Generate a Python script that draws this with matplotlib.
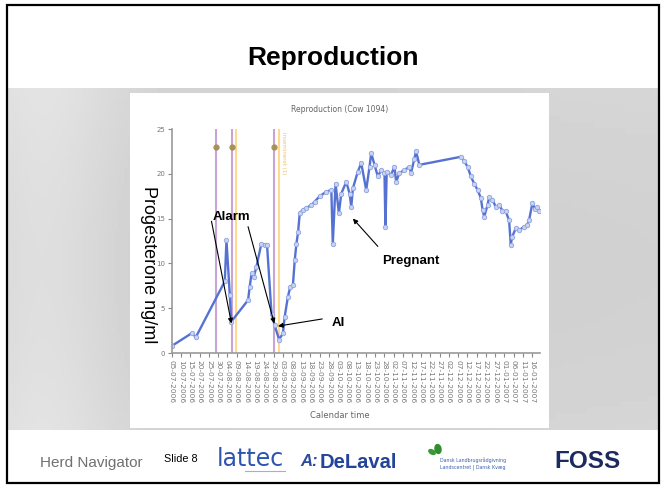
import numpy as np
import pandas as pd
import matplotlib
matplotlib.use('Agg')
import matplotlib.pyplot as plt
from matplotlib.patches import Rectangle, Ellipse

# progesterone measurements, days after 05-07-2006
days = [0, 10.6, 13, 28.6, 29.5, 31.3, 32.1, 41.2, 42.1, 43.1, 44.3, 45.7, 48.4,
        50.2, 51.5, 53.9, 55.6, 58, 60.1, 61, 62.8, 64.1, 65.5, 66.5, 67.4, 68.3,
        69.2, 70.9, 72.8, 75.5, 77.3, 80, 83.6, 86.3, 87.1, 88.6, 90.4, 91.7,
        94.4, 96.2, 97.1, 98, 100.6, 102.5, 105.2, 107, 107.9, 109.7, 111.5,
        113.3, 115.1, 115.6, 116.3, 118.7, 120.5, 121.4, 123.2, 125.9, 128.6,
        129.5, 131.3, 132.2, 134, 156.5, 158.3, 160.1, 161.9, 163.7, 165.5,
        167.3, 168.2, 169.1, 170.9, 171.8, 173.6, 175.4, 177.2, 179, 180.8,
        182.6, 183.5, 184.3, 186.2, 188, 190.7, 192.5, 193.4, 195.2, 196.6,
        197.9, 198.8]
progesterone = [0.8, 2.2, 1.8, 8.0, 12.6, 6.5, 3.5, 5.9, 7.4, 8.9, 8.5, 9.6, 12.2,
                12.1, 12.0, 4.4, 3.1, 1.5, 2.2, 4.0, 6.3, 7.4, 7.6, 10.4, 12.2, 13.5,
                15.6, 16.0, 16.2, 16.5, 16.9, 17.5, 18.0, 18.2, 12.2, 18.9, 15.6, 17.8,
                19.1, 17.8, 16.3, 18.4, 20.2, 21.2, 18.2, 20.8, 22.3, 21.0, 19.7,
                20.4, 20.1, 14.1, 20.2, 19.9, 20.8, 19.1, 20.1, 20.4, 20.8,
                20.1, 21.7, 22.5, 21.0, 21.9, 21.4, 20.8, 19.7, 18.9, 18.2,
                17.3, 16.0, 15.2, 16.5, 17.4, 17.1, 16.3, 16.5, 15.9, 15.8,
                14.8, 12.1, 13.0, 13.9, 13.7, 14.1, 14.3, 14.8, 16.7, 16.1,
                16.3, 15.9]

heat_days = [23.6, 32.3, 55.3]      # purple lines with markers
insem_days = [34.6, 57.8]           # orange lines
heat_marker = 23

start = pd.Timestamp('2006-07-05')
tick_dates = pd.date_range(start, '2007-01-16', freq='5D')
tick_days = [(d - start).days for d in tick_dates]
tick_labels = [d.strftime('%d-%m-%Y') for d in tick_dates]

W, H = 666, 488
fig = plt.figure(figsize=(W / 100, H / 100), dpi=100)

# slide background in pixel coords
bg = fig.add_axes([0, 0, 1, 1], zorder=0)
bg.set_xlim(0, W)
bg.set_ylim(H, 0)
bg.axis('off')
gx = np.linspace(0, 1, 200)
gy = np.linspace(0, 1, 60)
GX, GY = np.meshgrid(gx, gy)
shade = 0.82 + 0.07 * np.exp(-((GX - 0.05) / 0.12) ** 2) + 0.02 * GX - 0.02 * np.sin(GY * 3)
bg.imshow(shade, cmap='gray', vmin=0, vmax=1, extent=(7, 659, 430, 88), aspect='auto')
bg.add_patch(Rectangle((130, 93), 419, 335, facecolor='white', edgecolor='none'))
bg.add_patch(Rectangle((7, 5), 652, 478, facecolor='none', edgecolor='black', lw=1.6))

bg.text(333, 58, 'Reproduction', ha='center', va='center', fontsize=19,
        fontweight='bold', family='Liberation Sans')
bg.text(340, 109, 'Reproduction (Cow 1094)', ha='center', va='center',
        fontsize=5.5, color='#666666')
bg.text(340, 416, 'Calendar time', ha='center', va='center', fontsize=6, color='#666666')
bg.text(148, 265, 'Progesterone ng/ml', ha='center', va='center', rotation=270,
        fontsize=13, family='Liberation Sans')

# footer
bg.text(40, 463, 'Herd Navigator', ha='left', va='center', fontsize=11,
        color='#707070', family='Liberation Sans')
bg.text(164, 459, 'Slide 8', ha='left', va='center', fontsize=7.8, family='Liberation Sans')
bg.text(217, 459, 'lattec', ha='left', va='center', fontsize=17, color='#2d55b0',
        family='Liberation Sans Narrow')
bg.plot([245, 285], [471, 471], color='#9ab0e0', lw=0.8)
bg.text(300, 462, 'A:', ha='left', va='center', fontsize=12, color='#2a4aa0',
        fontweight='bold', style='italic', family='Liberation Sans')
bg.text(320, 462, 'DeLaval', ha='left', va='center', fontsize=14.5, color='#23449a',
        fontweight='bold', family='Liberation Sans')
bg.add_patch(Ellipse((432, 452), 7, 4, angle=30, color='#3a9a3a'))
bg.add_patch(Ellipse((438, 449), 6, 9, angle=-10, color='#2f8f2f'))
bg.text(440, 460, 'Dansk Landbrugsrådgivning', ha='left', va='center', fontsize=3.4,
        color='#3a60b0')
bg.text(440, 467, 'Landscentret | Dansk Kvæg', ha='left', va='center', fontsize=3.4,
        color='#3a60b0')
bg.text(588, 462, 'FOSS', ha='center', va='center', fontsize=17.5, color='#1c2a5e',
        fontweight='bold', family='Liberation Sans')

# chart
ax = fig.add_axes([172 / W, 1 - 353 / H, 368.3 / W, 224 / H], zorder=1)
ax.patch.set_visible(False)
for d in heat_days:
    ax.axvline(d, color='#c9a3d6', lw=1.5, zorder=1)
    ax.plot(d, heat_marker, 'o', color='#a8905a', ms=3.5, zorder=3)
for d in insem_days:
    ax.axvline(d, color='#ffd98c', lw=1.5, zorder=1)
ax.text(insem_days[1] + 1.2, 24.7, 'Insemineret (1)', rotation=270, fontsize=4,
        color='#f5c060', va='top', ha='left')

ax.plot(days, progesterone, '-', color='#5572d2', lw=1.7, zorder=2)
ax.plot(days, progesterone, 'o', ms=3.2, mfc='#c8d3f3', mec='#8ea2e2', mew=0.6, zorder=2)

ax.set_xlim(0, 199.5)
ax.set_ylim(0, 25)
ax.set_yticks([0, 5, 10, 15, 20, 25])
ax.set_xticks(tick_days)
ax.set_xticklabels(tick_labels, rotation=270)
ax.tick_params(axis='both', colors='#888888', labelcolor='#777777', labelsize=5,
               length=3, width=0.8, direction='out', pad=2)
ax.tick_params(axis='x', labelsize=5.3)
for s in ['top', 'right']:
    ax.spines[s].set_visible(False)
for s in ['left', 'bottom']:
    ax.spines[s].set_color('#999999')
    ax.spines[s].set_linewidth(1.2)

arrow = dict(arrowstyle='-|>', color='black', lw=0.8, mutation_scale=7,
             shrinkA=0, shrinkB=0)
ax.annotate('', xy=(32.2, 3.3), xytext=(21.4, 14.7), arrowprops=arrow)
ax.annotate('', xy=(55.4, 3.3), xytext=(41.2, 14.1), arrowprops=arrow)
ax.annotate('', xy=(57.4, 3.0), xytext=(81.4, 3.8), arrowprops=arrow)
ax.annotate('', xy=(98, 15.0), xytext=(111.5, 11.9), arrowprops=arrow)
bold = dict(fontsize=9.5, fontweight='bold', family='Liberation Sans',
            ha='center', va='center')
ax.text(32.2, 15.2, 'Alarm', **bold)
ax.text(90, 3.35, 'AI', **bold)
ax.text(129.1, 10.3, 'Pregnant', **bold)

fig.savefig('out.png', dpi=100)
